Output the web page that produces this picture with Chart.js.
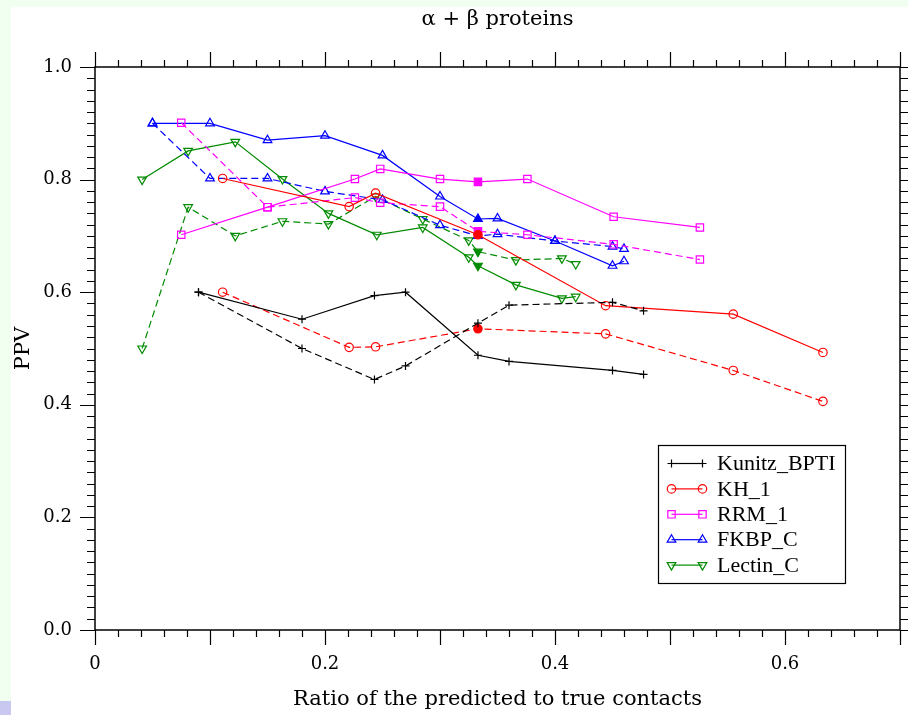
<!DOCTYPE html>
<html>
<head>
<meta charset="utf-8">
<script src="https://cdn.jsdelivr.net/npm/chart.js@4.4.0/dist/chart.umd.min.js"></script>
<style>
  html, body { margin: 0; padding: 0; background: #f0fff0; }
  #wrap { position: absolute; left: 11px; top: 7px; width: 897px; height: 708px; background: #fff; }
  #corner { position: absolute; left: 0; top: 701px; width: 11px; height: 14px; background: #c8c8f0; }
</style>
</head>
<body>
<div id="corner"></div>
<div id="wrap"><canvas id="c" width="897" height="708"></canvas></div>
<script>
// ---- data ----
const seriesNames = ['Kunitz_BPTI', 'KH_1', 'RRM_1', 'FKBP_C', 'Lectin_C'];
const seriesColors = ['#000000', '#ff0000', '#ff00ff', '#0000ff', '#008b00'];

const kunitzSolidX = [0.09, 0.18, 0.243, 0.27, 0.333, 0.36, 0.45, 0.477];
const kunitzSolidY = [0.600, 0.552, 0.594, 0.600, 0.488, 0.477, 0.461, 0.454];
const kunitzDashX  = [0.09, 0.18, 0.243, 0.27, 0.333, 0.36, 0.45, 0.477];
const kunitzDashY  = [0.600, 0.500, 0.445, 0.469, 0.545, 0.577, 0.582, 0.567];

const khSolidX = [0.111, 0.221, 0.244, 0.333, 0.444, 0.555, 0.633];
const khSolidY = [0.802, 0.752, 0.776, 0.702, 0.576, 0.561, 0.493];
const khDashX  = [0.111, 0.221, 0.244, 0.333, 0.444, 0.555, 0.633];
const khDashY  = [0.600, 0.502, 0.503, 0.535, 0.526, 0.461, 0.406];

const rrmSolidX = [0.075, 0.15, 0.226, 0.248, 0.30, 0.333, 0.376, 0.451, 0.526];
const rrmSolidY = [0.702, 0.751, 0.801, 0.819, 0.801, 0.796, 0.801, 0.734, 0.715];
const rrmDashX  = [0.075, 0.15, 0.226, 0.248, 0.30, 0.333, 0.376, 0.451, 0.526];
const rrmDashY  = [0.901, 0.751, 0.768, 0.759, 0.752, 0.708, 0.702, 0.685, 0.658];

const fkbpSolidX = [0.05, 0.10, 0.15, 0.20, 0.25, 0.30, 0.333, 0.35, 0.40, 0.45, 0.46];
const fkbpSolidY = [0.900, 0.900, 0.870, 0.878, 0.843, 0.770, 0.730, 0.731, 0.691, 0.647, 0.655];
const fkbpDashX  = [0.05, 0.10, 0.15, 0.20, 0.25, 0.30, 0.333, 0.35, 0.40, 0.45, 0.46];
const fkbpDashY  = [0.900, 0.802, 0.802, 0.779, 0.764, 0.719, 0.700, 0.703, 0.691, 0.681, 0.677];

const lectinSolidX = [0.041, 0.081, 0.122, 0.163, 0.203, 0.245, 0.285, 0.325, 0.333, 0.366, 0.406, 0.418];
const lectinSolidY = [0.800, 0.851, 0.867, 0.801, 0.740, 0.702, 0.715, 0.662, 0.647, 0.613, 0.589, 0.592];
const lectinDashX  = [0.041, 0.081, 0.122, 0.163, 0.203, 0.244, 0.285, 0.325, 0.333, 0.366, 0.406, 0.418];
const lectinDashY  = [0.500, 0.751, 0.700, 0.726, 0.721, 0.770, 0.730, 0.692, 0.672, 0.657, 0.660, 0.650];

const xTickLabels = ['0', '0.2', '0.4', '0.6'];
const yTickLabels = ['0.0', '0.2', '0.4', '0.6', '0.8', '1.0'];

const SERIF = '"Liberation Serif", serif';
const WIDE_SERIF = '"DejaVu Serif", "Liberation Serif", serif';

// marker style per series
const markers = [
  { pointStyle: 'cross', radius: 4, rotation: 0 },
  { pointStyle: 'circle', radius: 4.2, rotation: 0 },
  { pointStyle: 'rect', radius: 5.2, rotation: 0 },
  { pointStyle: 'triangle', radius: 5, rotation: 0 },
  { pointStyle: 'triangle', radius: 5, rotation: 180 },
];

const FILLED_X = 0.333;

function zip(xs, ys) { return xs.map((x, i) => ({ x, y: ys[i] })); }

function makeSet(i, xs, ys, dashed) {
  const col = seriesColors[i];
  const m = markers[i];
  return {
    label: seriesNames[i] + (dashed ? ' (dashed)' : ''),
    data: zip(xs, ys),
    showLine: true,
    borderColor: col,
    borderWidth: 1.2,
    borderDash: dashed ? [7, 4] : [],
    pointStyle: m.pointStyle,
    pointRadius: m.radius,
    pointHoverRadius: m.radius,
    pointRotation: m.rotation,
    pointBorderColor: col,
    pointBorderWidth: 1.2,
    pointBackgroundColor: xs.map(x => x === FILLED_X ? col : 'rgba(0,0,0,0)'),
    _legend: !dashed,
    _idx: i,
  };
}

const datasets = [
  makeSet(0, kunitzSolidX, kunitzSolidY, false),
  makeSet(0, kunitzDashX, kunitzDashY, true),
  makeSet(1, khSolidX, khSolidY, false),
  makeSet(1, khDashX, khDashY, true),
  makeSet(2, rrmSolidX, rrmSolidY, false),
  makeSet(2, rrmDashX, rrmDashY, true),
  makeSet(3, fkbpSolidX, fkbpSolidY, false),
  makeSet(3, fkbpDashX, fkbpDashY, true),
  makeSet(4, lectinSolidX, lectinSolidY, false),
  makeSet(4, lectinDashX, lectinDashY, true),
];

// frame + outward ticks on all four sides
const frameTicks = {
  id: 'frameTicks',
  afterDatasetsDraw(chart) {
    const { ctx, chartArea: a } = chart;
    const xs = chart.scales.x, ys = chart.scales.y;
    ctx.save();
    ctx.strokeStyle = '#000';
    ctx.lineWidth = 1.5;
    ctx.strokeRect(a.left, a.top, a.right - a.left, a.bottom - a.top);
    ctx.lineWidth = 1.2;
    ctx.beginPath();
    for (let k = 0; k <= 35; k++) {
      const px = Math.round(xs.getPixelForValue(k * 0.02)) + 0.5;
      const len = (k % 5 === 0) ? 15 : 7;
      ctx.moveTo(px, a.bottom); ctx.lineTo(px, a.bottom + len);
      ctx.moveTo(px, a.top); ctx.lineTo(px, a.top - len);
    }
    for (let k = 0; k <= 50; k++) {
      const py = Math.round(ys.getPixelForValue(k * 0.02)) + 0.5;
      const len = (k % 10 === 0) ? 15 : 8;
      ctx.moveTo(a.left, py); ctx.lineTo(a.left - len, py);
      ctx.moveTo(a.right, py); ctx.lineTo(a.right + len, py);
    }
    ctx.stroke();
    ctx.restore();
  }
};

// legend box with marker at both ends of the line sample
const boxLegend = {
  id: 'boxLegend',
  afterDraw(chart) {
    const { ctx, chartArea: a } = chart;
    const bx = a.left + 563, by = a.top + 378, bw = 187, bh = 138;
    ctx.save();
    ctx.fillStyle = '#fff';
    ctx.fillRect(bx, by, bw, bh);
    ctx.strokeStyle = '#000';
    ctx.lineWidth = 1.2;
    ctx.strokeRect(bx + 0.5, by + 0.5, bw, bh);
    const items = chart.data.datasets.filter(d => d._legend);
    items.forEach((d, r) => {
      const cy = by + 18.5 + r * 25.4;
      const x1 = bx + 13.5, x2 = bx + 44.5;
      ctx.strokeStyle = d.borderColor;
      ctx.lineWidth = 1.2;
      ctx.setLineDash([]);
      ctx.beginPath(); ctx.moveTo(x1, cy); ctx.lineTo(x2, cy); ctx.stroke();
      [x1, x2].forEach(px => {
        ctx.strokeStyle = d.borderColor;
        ctx.fillStyle = 'rgba(0,0,0,0)';
        ctx.lineWidth = 1.2;
        Chart.helpers.drawPoint(ctx, {
          pointStyle: d.pointStyle, radius: d.pointRadius,
          rotation: d.pointRotation, borderWidth: 1.2
        }, px, cy);
      });
      ctx.fillStyle = '#000';
      ctx.font = '22px ' + SERIF;
      ctx.textBaseline = 'middle';
      ctx.textAlign = 'left';
      ctx.fillText(seriesNames[d._idx], bx + 59, cy + 1);
    });
    ctx.restore();
  }
};

new Chart(document.getElementById('c'), {
  type: 'scatter',
  data: { datasets },
  options: {
    responsive: false,
    animation: false,
    layout: { padding: 0 },
    plugins: { legend: { display: false }, tooltip: { enabled: false }, title: { display: false } },
    scales: {
      x: {
        type: 'linear', position: 'bottom', min: 0, max: 0.7,
        afterFit: s => { s.height = 85; },
        grid: { display: false, drawTicks: false },
        border: { display: false },
        ticks: {
          stepSize: 0.2, includeBounds: false, padding: 24, color: '#000',
          font: { family: WIDE_SERIF, size: 18 },
          maxRotation: 0,
          callback: v => xTickLabels[Math.round(v / 0.2)] ?? ''
        },
        title: {
          display: true, text: 'Ratio of the predicted to true contacts', color: '#000',
          font: { family: WIDE_SERIF, size: 21 }, padding: { top: 0, bottom: 3 }
        }
      },
      x2: {
        type: 'linear', position: 'top', min: 0, max: 0.7,
        afterFit: s => { s.height = 60; },
        grid: { display: false, drawTicks: false }, border: { display: false },
        ticks: { display: false },
        title: {
          display: true, text: 'α + β proteins', color: '#000',
          font: { family: WIDE_SERIF, size: 21 }, padding: { top: 0, bottom: 0 }
        }
      },
      y: {
        type: 'linear', position: 'left', min: 0, max: 1,
        afterFit: s => { s.width = 84; },
        grid: { display: false, drawTicks: false },
        border: { display: false },
        ticks: {
          stepSize: 0.2, padding: 23, color: '#000',
          font: { family: WIDE_SERIF, size: 18 },
          callback: v => yTickLabels[Math.round(v / 0.2)] ?? ''
        },
        title: {
          display: true, text: 'PPV', color: '#000',
          font: { family: WIDE_SERIF, size: 21 }, padding: { top: 0, bottom: 0 }
        }
      },
      y2: {
        type: 'linear', position: 'right', min: 0, max: 1,
        afterFit: s => { s.width = 8; },
        grid: { display: false, drawTicks: false }, border: { display: false },
        ticks: { display: false }
      }
    }
  },
  plugins: [frameTicks, boxLegend]
});
</script>
</body>
</html>
